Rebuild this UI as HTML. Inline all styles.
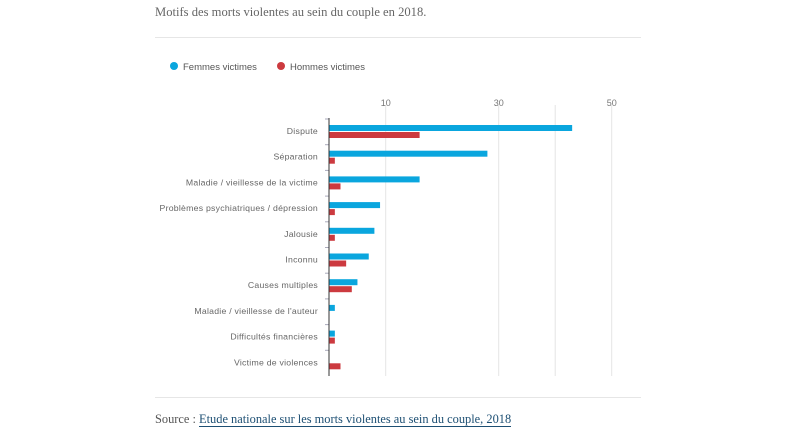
<!DOCTYPE html>
<html><head><meta charset="utf-8"><style>
body{margin:0;width:794px;height:447px;background:#fff;overflow:hidden;font-family:"Liberation Sans",sans-serif}
.t{position:absolute;left:155px;top:5px;font-family:"Liberation Serif",serif;font-size:12.6px;color:#666}
.hr{position:absolute;left:155px;width:486px;height:1px;background:#e6e6e6}
.src{position:absolute;left:155px;top:412px;font-family:"Liberation Serif",serif;font-size:12.4px;color:#555}
.src a{color:#1d4f73;text-decoration:none;border-bottom:1px solid #1d4f73}
</style></head><body>
<div class="t">Motifs des morts violentes au sein du couple en 2018.</div>
<div class="hr" style="top:37px"></div>
<svg id="c" width="794" height="447" style="position:absolute;left:0;top:0"></svg>
<div class="hr" style="top:397px"></div>
<div class="src">Source : <a>Etude nationale sur les morts violentes au sein du couple, 2018</a></div>
<script>
const categories=["Dispute","Séparation","Maladie / vieillesse de la victime","Problèmes psychiatriques / dépression","Jalousie","Inconnu","Causes multiples","Maladie / vieillesse de l'auteur","Difficultés financières","Victime de violences"];
const femmes=[43,28,16,9,8,7,5,1,1,0];
const hommes=[16,1,2,1,1,3,4,0,1,2];
const tickLabels=[10,30,50];
const gridValues=[10,30,40,50];
const NS="http://www.w3.org/2000/svg";
const svg=document.getElementById('c');
const x=v=>329.2+v*5.65;
const rowY=i=>119+i*25.7;
function mk(t,a){const e=document.createElementNS(NS,t);for(const k in a)e.setAttribute(k,a[k]);svg.appendChild(e);return e;}
gridValues.forEach(v=>{const l=mk('line',{x1:x(v),x2:x(v),y1:105,y2:376,stroke:'#e4e4e4','stroke-width':1});

});
tickLabels.forEach(v=>{const t=mk('text',{x:x(v),y:106,'text-anchor':'middle','font-size':9,fill:'#777','font-family':'Liberation Sans, sans-serif'});t.textContent=v;

});
categories.forEach((c,i)=>{const y=rowY(i);
const tk=mk('line',{x1:325,x2:329,y1:y,y2:y,stroke:'#aab',"stroke-width":1});


const t=mk('text',{x:318,y:y+15,'text-anchor':'end','font-size':8.7,'letter-spacing':0.25,fill:'#666','font-family':'Liberation Sans, sans-serif'});t.textContent=c;


const b=mk('rect',{x:x(0),y:y+6,width:x(femmes[i])-x(0),height:6,fill:'#0aa6de'});


const r=mk('rect',{x:x(0),y:y+13,width:x(hommes[i])-x(0),height:6,fill:'#cc3a3f'});

});
const ax=mk('line',{x1:329,x2:329,y1:118,y2:376,stroke:'#333','stroke-width':1});


[[174,'#0aa6de','Femmes victimes'],[281,'#cc3a3f','Hommes victimes']].forEach(([lx,col,txt])=>{
const d=mk('circle',{cx:lx,cy:66,r:4,fill:col});


const t=mk('text',{x:lx+9,y:70,'font-size':9.5,fill:'#555','font-family':'Liberation Sans, sans-serif'});t.textContent=txt;

});
</script>
</body></html>
